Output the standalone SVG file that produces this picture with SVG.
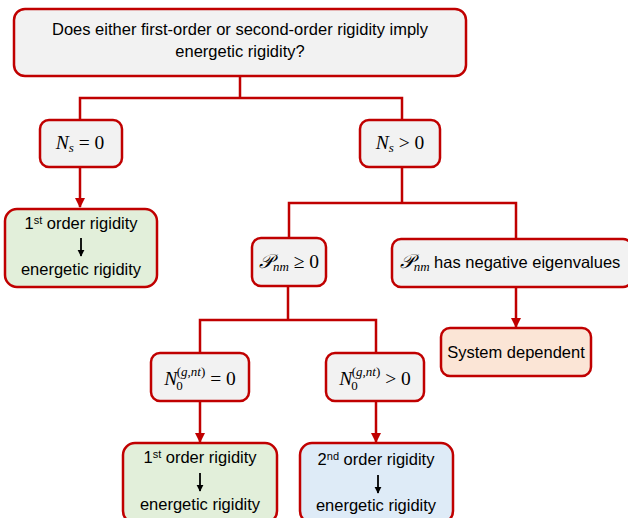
<svg xmlns="http://www.w3.org/2000/svg" width="628" height="518" viewBox="0 0 628 518">
<style>
.box{stroke:#C00000;stroke-width:2.5;}
.g{fill:#F2F2F2;}
.gr{fill:#E2EFDA;}
.bl{fill:#DEEBF7;}
.or{fill:#FBE5D6;}
.t{font-family:"Liberation Sans",Arial,sans-serif;font-size:16.5px;fill:#000;text-anchor:middle;}
.m{font-family:"Liberation Serif","DejaVu Serif",serif;font-size:19.5px;fill:#000;text-anchor:middle;}
.i{font-style:italic;}
.c{fill:none;stroke:#C00000;stroke-width:2.5;}
.ka{fill:none;stroke:#000;stroke-width:1.8;}
</style>
<defs>
<marker id="ah" viewBox="0 0 10 10" refX="9" refY="5" markerWidth="4" markerHeight="4" orient="auto" markerUnits="strokeWidth">
<path d="M0,0 L10,5 L0,10 z" fill="#C00000"/>
</marker>
<marker id="kh" viewBox="0 0 10 10" refX="9" refY="5" markerWidth="4" markerHeight="4" orient="auto" markerUnits="strokeWidth">
<path d="M0,0 L10,5 L0,10 z" fill="#000"/>
</marker>
</defs>
<g id="connectors">
<path class="c" d="M240,76 V98 M80,120 V98 H402 V120"/>
<path class="c" d="M80,167 V207" marker-end="url(#ah)"/>
<path class="c" d="M402,167 V203 M289,238 V203 H516 V239"/>
<path class="c" d="M516,287 V327" marker-end="url(#ah)"/>
<path class="c" d="M288,286 V320 M200,353 V320 H376 V353"/>
<path class="c" d="M200,401 V442" marker-end="url(#ah)"/>
<path class="c" d="M376,401 V442" marker-end="url(#ah)"/>
</g>
<g id="question">
<rect class="box g" x="14" y="9" width="452" height="67" rx="11"/>
<text class="t" x="240" y="35">Does either first-order or second-order rigidity imply</text>
<text class="t" x="240" y="57">energetic rigidity?</text>
</g>
<g id="ns0">
<rect class="box g" x="40" y="120" width="82" height="47" rx="9"/>
<text class="m" x="80" y="149"><tspan class="i">N</tspan><tspan class="i" font-size="13" dy="3">s</tspan><tspan dy="-3"> = 0</tspan></text>
</g>
<g id="nsgt0">
<rect class="box g" x="360" y="120" width="80" height="47" rx="9"/>
<text class="m" x="400" y="149"><tspan class="i">N</tspan><tspan class="i" font-size="13" dy="3">s</tspan><tspan dy="-3"> &gt; 0</tspan></text>
</g>
<g id="first1">
<rect class="box gr" x="5" y="209" width="152" height="78" rx="12"/>
<text class="t" x="81" y="229">1<tspan font-size="11" dy="-5">st</tspan><tspan dy="5"> order rigidity</tspan></text>
<path class="ka" d="M81,238 V256" marker-end="url(#kh)"/>
<text class="t" x="81" y="275">energetic rigidity</text>
</g>
<g id="pnm">
<rect class="box g" x="252" y="238" width="74" height="48" rx="9"/>
<text class="m" x="289" y="268"><tspan class="i">𝒫</tspan><tspan class="i" font-size="13" dy="3">nm</tspan><tspan dy="-3"> ≥ 0</tspan></text>
</g>
<g id="pneg">
<rect class="box g" x="392" y="239" width="240" height="48" rx="9"/>
<text class="t" x="510" y="268"><tspan class="i" font-family="Liberation Serif,serif" font-size="19.5">𝒫</tspan><tspan class="i" font-family="Liberation Serif,serif" font-size="13" dy="3">nm</tspan><tspan dy="-3"> has negative eigenvalues</tspan></text>
</g>
<g id="sysdep">
<rect class="box or" x="441" y="328" width="150" height="48" rx="9"/>
<text class="t" x="516" y="358">System dependent</text>
</g>
<g id="n0eq">
<rect class="box g" x="151" y="353" width="98" height="48" rx="9"/>
<text class="m" x="200" y="385"><tspan class="i">N</tspan><tspan font-size="13" dx="-1" dy="5">0</tspan><tspan font-size="13" dx="-6" dy="-14">(<tspan class="i">g</tspan>,<tspan class="i">nt</tspan>)</tspan><tspan dy="9"> = 0</tspan></text>
</g>
<g id="n0gt">
<rect class="box g" x="326" y="353" width="98" height="48" rx="9"/>
<text class="m" x="375" y="385"><tspan class="i">N</tspan><tspan font-size="13" dx="-1" dy="5">0</tspan><tspan font-size="13" dx="-6" dy="-14">(<tspan class="i">g</tspan>,<tspan class="i">nt</tspan>)</tspan><tspan dy="9"> &gt; 0</tspan></text>
</g>
<g id="first2">
<rect class="box gr" x="123" y="443" width="154" height="80" rx="12"/>
<text class="t" x="200" y="463">1<tspan font-size="11" dy="-5">st</tspan><tspan dy="5"> order rigidity</tspan></text>
<path class="ka" d="M200,473 V491" marker-end="url(#kh)"/>
<text class="t" x="200" y="510">energetic rigidity</text>
</g>
<g id="second">
<rect class="box bl" x="300" y="443" width="153" height="80" rx="12"/>
<text class="t" x="376" y="465">2<tspan font-size="11" dy="-5">nd</tspan><tspan dy="5"> order rigidity</tspan></text>
<path class="ka" d="M378,475 V493" marker-end="url(#kh)"/>
<text class="t" x="376" y="511">energetic rigidity</text>
</g>
</svg>
